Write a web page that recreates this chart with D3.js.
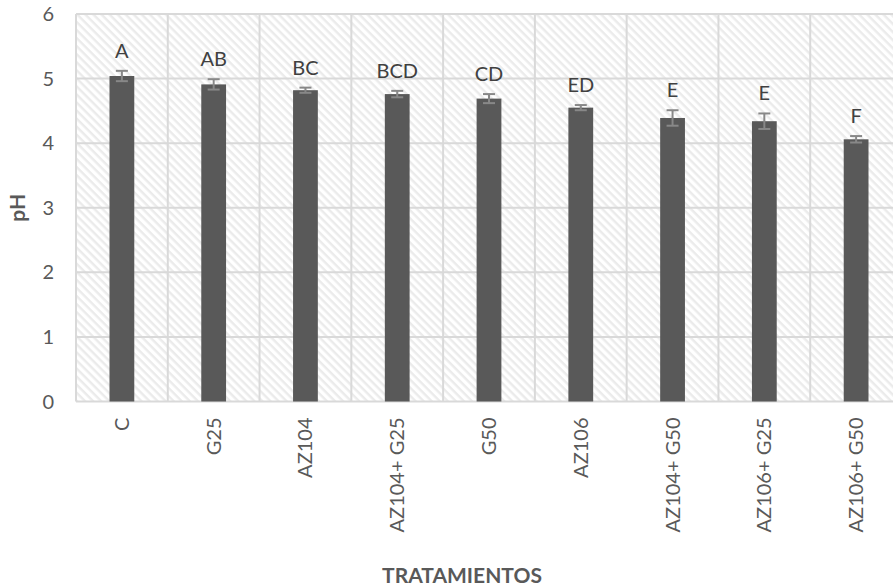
<!DOCTYPE html>
<html>
<head>
<meta charset="utf-8">
<script src="https://cdn.jsdelivr.net/npm/d3@7"></script>
<style>
  html, body { margin: 0; padding: 0; background: #fff; }
  svg { display: block; font-family: Lato, "Open Sans", sans-serif; }
</style>
</head>
<body>
<svg id="chart" width="893" height="588"></svg>
<script>
// Treatments and measured pH (mean ± error) with significance letters
const categories = ["C", "G25", "AZ104", "AZ104+ G25", "G50", "AZ106", "AZ104+ G50", "AZ106+ G25", "AZ106+ G50"];
const phValues   = [5.04, 4.91, 4.82, 4.76, 4.69, 4.55, 4.39, 4.34, 4.06];
const phErrors   = [0.08, 0.08, 0.04, 0.05, 0.07, 0.04, 0.12, 0.12, 0.05];
const groupLetters = ["A", "AB", "BC", "BCD", "CD", "ED", "E", "E", "F"];
const yTicks = [0, 1, 2, 3, 4, 5, 6];

const svg = d3.select("#chart");
const plotLeft = 76, plotRight = 902, plotTop = 14, plotBottom = 401.5;

const x = d3.scaleBand().domain(categories).range([plotLeft, plotRight]).paddingInner(0.73).paddingOuter(0.365);
const y = d3.scaleLinear().domain([0, 6]).range([plotBottom, plotTop]);

// Diagonal hatch fill for the plot area
const defs = svg.append("defs");
const pat = defs.append("pattern")
  .attr("id", "hatch").attr("patternUnits", "userSpaceOnUse")
  .attr("width", 5.7).attr("height", 5.7)
  .attr("patternTransform", "rotate(45)");
pat.append("rect").attr("width", 5.7).attr("height", 5.7).attr("fill", "#ffffff");
pat.append("rect").attr("width", 5.7).attr("height", 2.4).attr("fill", "#ebebeb");

const g = svg.append("g");

g.append("rect")
  .attr("x", plotLeft).attr("y", plotTop)
  .attr("width", plotRight - plotLeft).attr("height", plotBottom - plotTop)
  .attr("fill", "url(#hatch)");

// Horizontal gridlines
g.append("g").selectAll("line").data(yTicks).join("line")
  .attr("x1", plotLeft).attr("x2", plotRight)
  .attr("y1", d => y(d)).attr("y2", d => y(d))
  .attr("stroke", "#d9d9d9").attr("stroke-width", 2);

// Vertical gridlines at category boundaries
const step = x.step();
const bounds = d3.range(categories.length + 1).map(i => plotLeft + i * step);
g.append("g").selectAll("line").data(bounds).join("line")
  .attr("x1", d => d).attr("x2", d => d)
  .attr("y1", plotTop).attr("y2", plotBottom)
  .attr("stroke", "#d9d9d9").attr("stroke-width", 2);

// Bars
g.append("g").selectAll("rect").data(categories).join("rect")
  .attr("x", d => x(d))
  .attr("y", (d, i) => y(phValues[i]))
  .attr("width", x.bandwidth())
  .attr("height", (d, i) => y(0) - y(phValues[i]))
  .attr("fill", "#595959");

// Error bars
const eb = g.append("g").attr("stroke", "#888888").attr("stroke-width", 2);
categories.forEach((c, i) => {
  const cx = x(c) + x.bandwidth() / 2;
  const y1 = y(phValues[i] + phErrors[i]);
  const y2 = y(phValues[i] - phErrors[i]);
  eb.append("line").attr("x1", cx).attr("x2", cx).attr("y1", y1).attr("y2", y2);
  eb.append("line").attr("x1", cx - 6).attr("x2", cx + 6).attr("y1", y1).attr("y2", y1);
  eb.append("line").attr("x1", cx - 6).attr("x2", cx + 6).attr("y1", y2).attr("y2", y2);
});

// Significance letters
g.append("g").selectAll("text").data(categories).join("text")
  .attr("x", d => x(d) + x.bandwidth() / 2)
  .attr("y", (d, i) => y(phValues[i] + phErrors[i]) - 13)
  .attr("text-anchor", "middle")
  .attr("font-size", 20)
  .attr("fill", "#404040")
  .text((d, i) => groupLetters[i]);

// Y axis tick labels
svg.append("g").selectAll("text").data(yTicks).join("text")
  .attr("x", 54).attr("y", d => y(d))
  .attr("dy", "0.35em")
  .attr("text-anchor", "end")
  .attr("font-size", 20)
  .attr("fill", "#595959")
  .text(d => d);

// X axis category labels (rotated)
svg.append("g").selectAll("text").data(categories).join("text")
  .attr("transform", d => `translate(${x(d) + x.bandwidth() / 2},${plotBottom + 16}) rotate(-90)`)
  .attr("dy", "0.35em")
  .attr("text-anchor", "end")
  .attr("font-size", 20)
  .attr("fill", "#595959")
  .text(d => d);

// Axis titles
svg.append("text")
  .attr("transform", `translate(18,${(plotTop + plotBottom) / 2}) rotate(-90)`)
  .attr("dy", "0.35em")
  .attr("text-anchor", "middle")
  .attr("font-size", 21).attr("font-weight", "bold")
  .attr("fill", "#595959")
  .text("pH");

svg.append("text")
  .attr("x", 462).attr("y", 576)
  .attr("dy", "0.35em")
  .attr("text-anchor", "middle")
  .attr("font-size", 21).attr("font-weight", "bold")
  .attr("fill", "#595959")
  .text("TRATAMIENTOS");
</script>
</body>
</html>
